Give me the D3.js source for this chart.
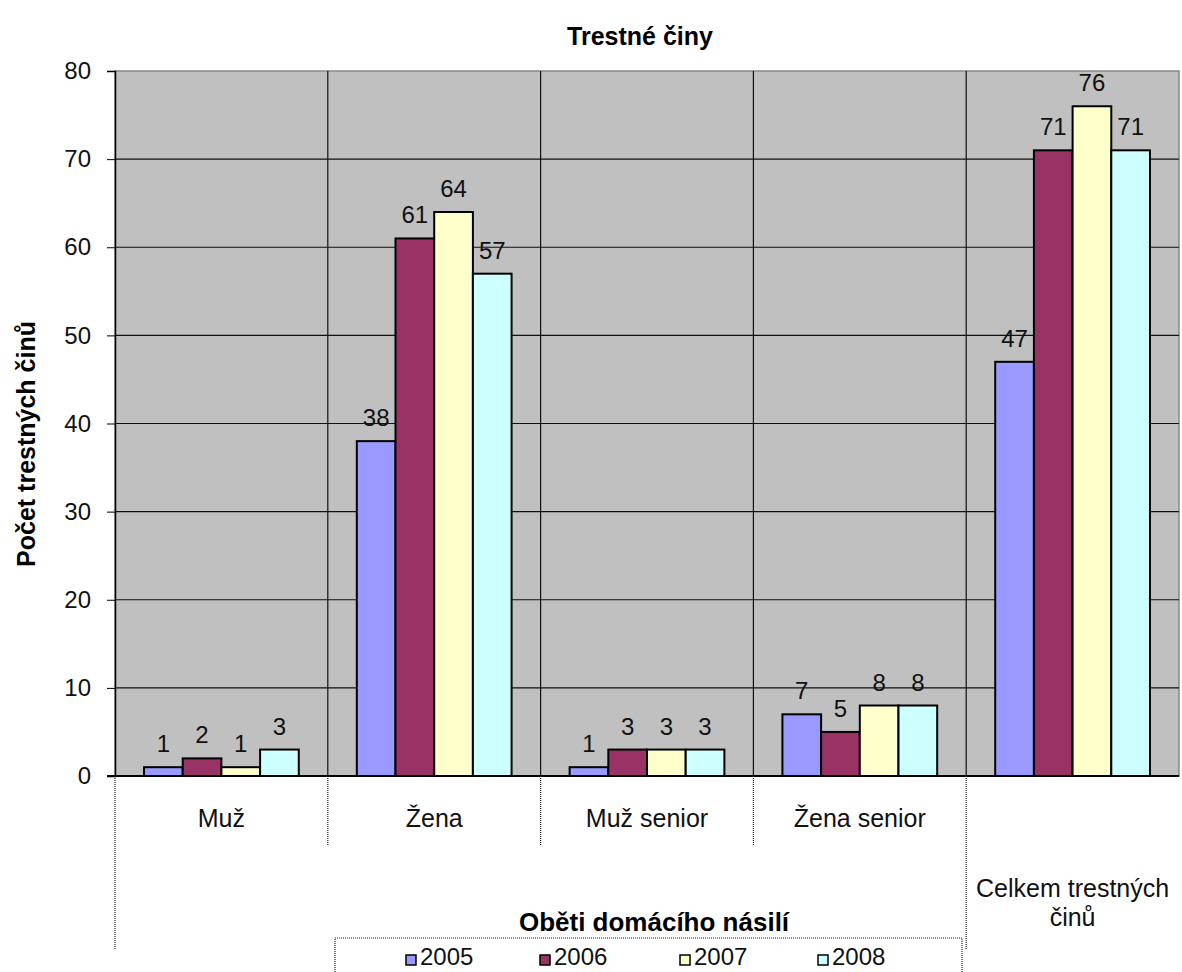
<!DOCTYPE html>
<html>
<head>
<meta charset="utf-8">
<title>Trestné činy</title>
<style>
  body { margin: 0; background: #fff; }
  svg { font-family: Arial, "Liberation Sans", sans-serif; }
</style>
</head>
<body>
<script src="https://d3js.org/d3.v7.min.js"></script>
<script>
// data
let categories = ["Muž", "Žena", "Muž senior", "Žena senior", "Celkem trestných činů"];
let years = ["2005", "2006", "2007", "2008"];
let values2005 = [1, 38, 1, 7, 47];
let values2006 = [2, 61, 3, 5, 71];
let values2007 = [1, 64, 3, 8, 76];
let values2008 = [3, 57, 3, 8, 71];
let yTicks = [0, 10, 20, 30, 40, 50, 60, 70, 80];
let groupLabel = "Oběti domácího násilí";

let series = [values2005, values2006, values2007, values2008];
let colors = ["#9999FF", "#993366", "#FFFFCC", "#CCFFFF"];

let width = 1182;
let height = 972;
let margin = {left: 115, right: 3, top: 71, bottom: 196};

let svg = d3.select("body").append("svg")
    .attr("width", width)
    .attr("height", height);

let x = d3.scaleBand()
    .domain(categories)
    .range([margin.left, width - margin.right])
    .paddingInner(0)
    .paddingOuter(0);

// 150% gap width -> 0.75 bar on each side
let xSub = d3.scaleBand()
    .domain(years)
    .range([0, x.bandwidth()])
    .paddingOuter(0.75)
    .paddingInner(0);

let y = d3.scaleLinear()
    .domain([0, 80])
    .range([height - margin.bottom, margin.top]);

// plot background
svg.append("rect")
    .attr("x", margin.left)
    .attr("y", margin.top)
    .attr("width", width - margin.left - margin.right)
    .attr("height", y(0) - margin.top)
    .attr("fill", "#C0C0C0")
    .attr("stroke", "#888")
    .attr("stroke-width", 1.5);

// horizontal gridlines
svg.selectAll(".grid")
    .data(yTicks.filter(d => d > 0 && d < 80))
    .join("line")
    .attr("class", "grid")
    .attr("x1", margin.left)
    .attr("x2", width - margin.right)
    .attr("y1", d => y(d))
    .attr("y2", d => y(d))
    .attr("stroke", "#111")
    .attr("stroke-width", 1.2);

// vertical gridlines between categories
svg.selectAll(".vgrid")
    .data(categories.slice(1))
    .join("line")
    .attr("class", "vgrid")
    .attr("x1", d => x(d))
    .attr("x2", d => x(d))
    .attr("y1", margin.top)
    .attr("y2", y(0))
    .attr("stroke", "#111")
    .attr("stroke-width", 1.2);

// bars + value labels
series.forEach(function (vals, si) {
    svg.selectAll(".bar" + si)
        .data(vals)
        .join("rect")
        .attr("class", "bar" + si)
        .attr("x", (d, i) => x(categories[i]) + xSub(years[si]))
        .attr("y", d => y(d))
        .attr("width", xSub.bandwidth())
        .attr("height", d => y(0) - y(d))
        .attr("fill", colors[si])
        .attr("stroke", "#000")
        .attr("stroke-width", 2);

    svg.selectAll(".lbl" + si)
        .data(vals)
        .join("text")
        .attr("class", "lbl" + si)
        .attr("x", (d, i) => x(categories[i]) + xSub(years[si]) + xSub.bandwidth() / 2)
        .attr("y", d => y(d) - 15)
        .attr("text-anchor", "middle")
        .attr("font-size", "24px")
        .attr("fill", "#111")
        .text(d => d);
});

// y axis
let yAxis = d3.axisLeft(y)
    .tickValues(yTicks)
    .tickSize(8)
    .tickPadding(16);
let yg = svg.append("g")
    .attr("transform", `translate(${margin.left},0)`)
    .call(yAxis);
yg.select(".domain").attr("stroke", "#000").attr("stroke-width", 1.5);
yg.selectAll(".tick line").attr("stroke", "#000");
yg.selectAll("text")
    .attr("font-size", "24px")
    .attr("fill", "#111")
    .attr("font-family", "Arial, 'Liberation Sans', sans-serif");

// x axis baseline
svg.append("line")
    .attr("x1", margin.left - 8)
    .attr("x2", width - margin.right)
    .attr("y1", y(0))
    .attr("y2", y(0))
    .attr("stroke", "#000")
    .attr("stroke-width", 2);

// category labels, first level
svg.selectAll(".catlbl")
    .data(categories.slice(0, 4))
    .join("text")
    .attr("class", "catlbl")
    .attr("x", d => x(d) + x.bandwidth() / 2)
    .attr("y", y(0) + 51)
    .attr("text-anchor", "middle")
    .attr("font-size", "25px")
    .attr("fill", "#111")
    .text(d => d);

// short tick lines between first-level labels
svg.selectAll(".tick1")
    .data(categories.slice(1, 4))
    .join("line")
    .attr("class", "tick1")
    .attr("x1", d => x(d))
    .attr("x2", d => x(d))
    .attr("y1", y(0))
    .attr("y2", y(0) + 70)
    .attr("stroke", "#222")
    .attr("stroke-width", 1.2)
    .attr("stroke-dasharray", "1,1");

// long tick lines around the group
svg.selectAll(".tick2")
    .data([categories[0], categories[4]])
    .join("line")
    .attr("class", "tick2")
    .attr("x1", d => x(d))
    .attr("x2", d => x(d))
    .attr("y1", y(0))
    .attr("y2", y(0) + 173)
    .attr("stroke", "#222")
    .attr("stroke-width", 1.2)
    .attr("stroke-dasharray", "1,1");

// group label
svg.append("text")
    .attr("x", 654)
    .attr("y", 931)
    .attr("text-anchor", "middle")
    .attr("font-size", "26px")
    .attr("font-weight", "bold")
    .attr("fill", "#000")
    .text(groupLabel);

// total label (two lines)
let totalX = x(categories[4]) + x.bandwidth() / 2;
let total = svg.append("text")
    .attr("x", totalX)
    .attr("y", 897)
    .attr("text-anchor", "middle")
    .attr("font-size", "25px")
    .attr("fill", "#111");
total.append("tspan").text("Celkem trestných");
total.append("tspan")
    .attr("x", totalX)
    .attr("dy", "29")
    .text("činů");

// y axis title
svg.append("text")
    .attr("transform", "translate(35, 444) rotate(-90)")
    .attr("text-anchor", "middle")
    .attr("font-size", "25px")
    .attr("font-weight", "bold")
    .attr("fill", "#000")
    .text("Počet trestných činů");

// chart title
svg.append("text")
    .attr("x", 640)
    .attr("y", 45)
    .attr("text-anchor", "middle")
    .attr("font-size", "25px")
    .attr("font-weight", "bold")
    .attr("fill", "#000")
    .text("Trestné činy");

// legend
let legend = svg.append("g");
legend.append("rect")
    .attr("x", 335)
    .attr("y", 938)
    .attr("width", 627)
    .attr("height", 50)
    .attr("fill", "#fff")
    .attr("stroke", "#222")
    .attr("stroke-width", 1.2)
    .attr("stroke-dasharray", "1,1");

let legendX = [406, 540, 680, 818];
years.forEach(function (yr, i) {
    let item = legend.append("g")
        .attr("transform", `translate(${legendX[i]}, 965)`);
    item.append("rect")
        .attr("x", 0)
        .attr("y", -10)
        .attr("width", 10)
        .attr("height", 10)
        .attr("fill", colors[i])
        .attr("stroke", "#000")
        .attr("stroke-width", 1.5);
    item.append("text")
        .attr("x", 14)
        .attr("y", 0)
        .attr("font-size", "24px")
        .attr("fill", "#111")
        .text(yr);
});
</script>
</body>
</html>
